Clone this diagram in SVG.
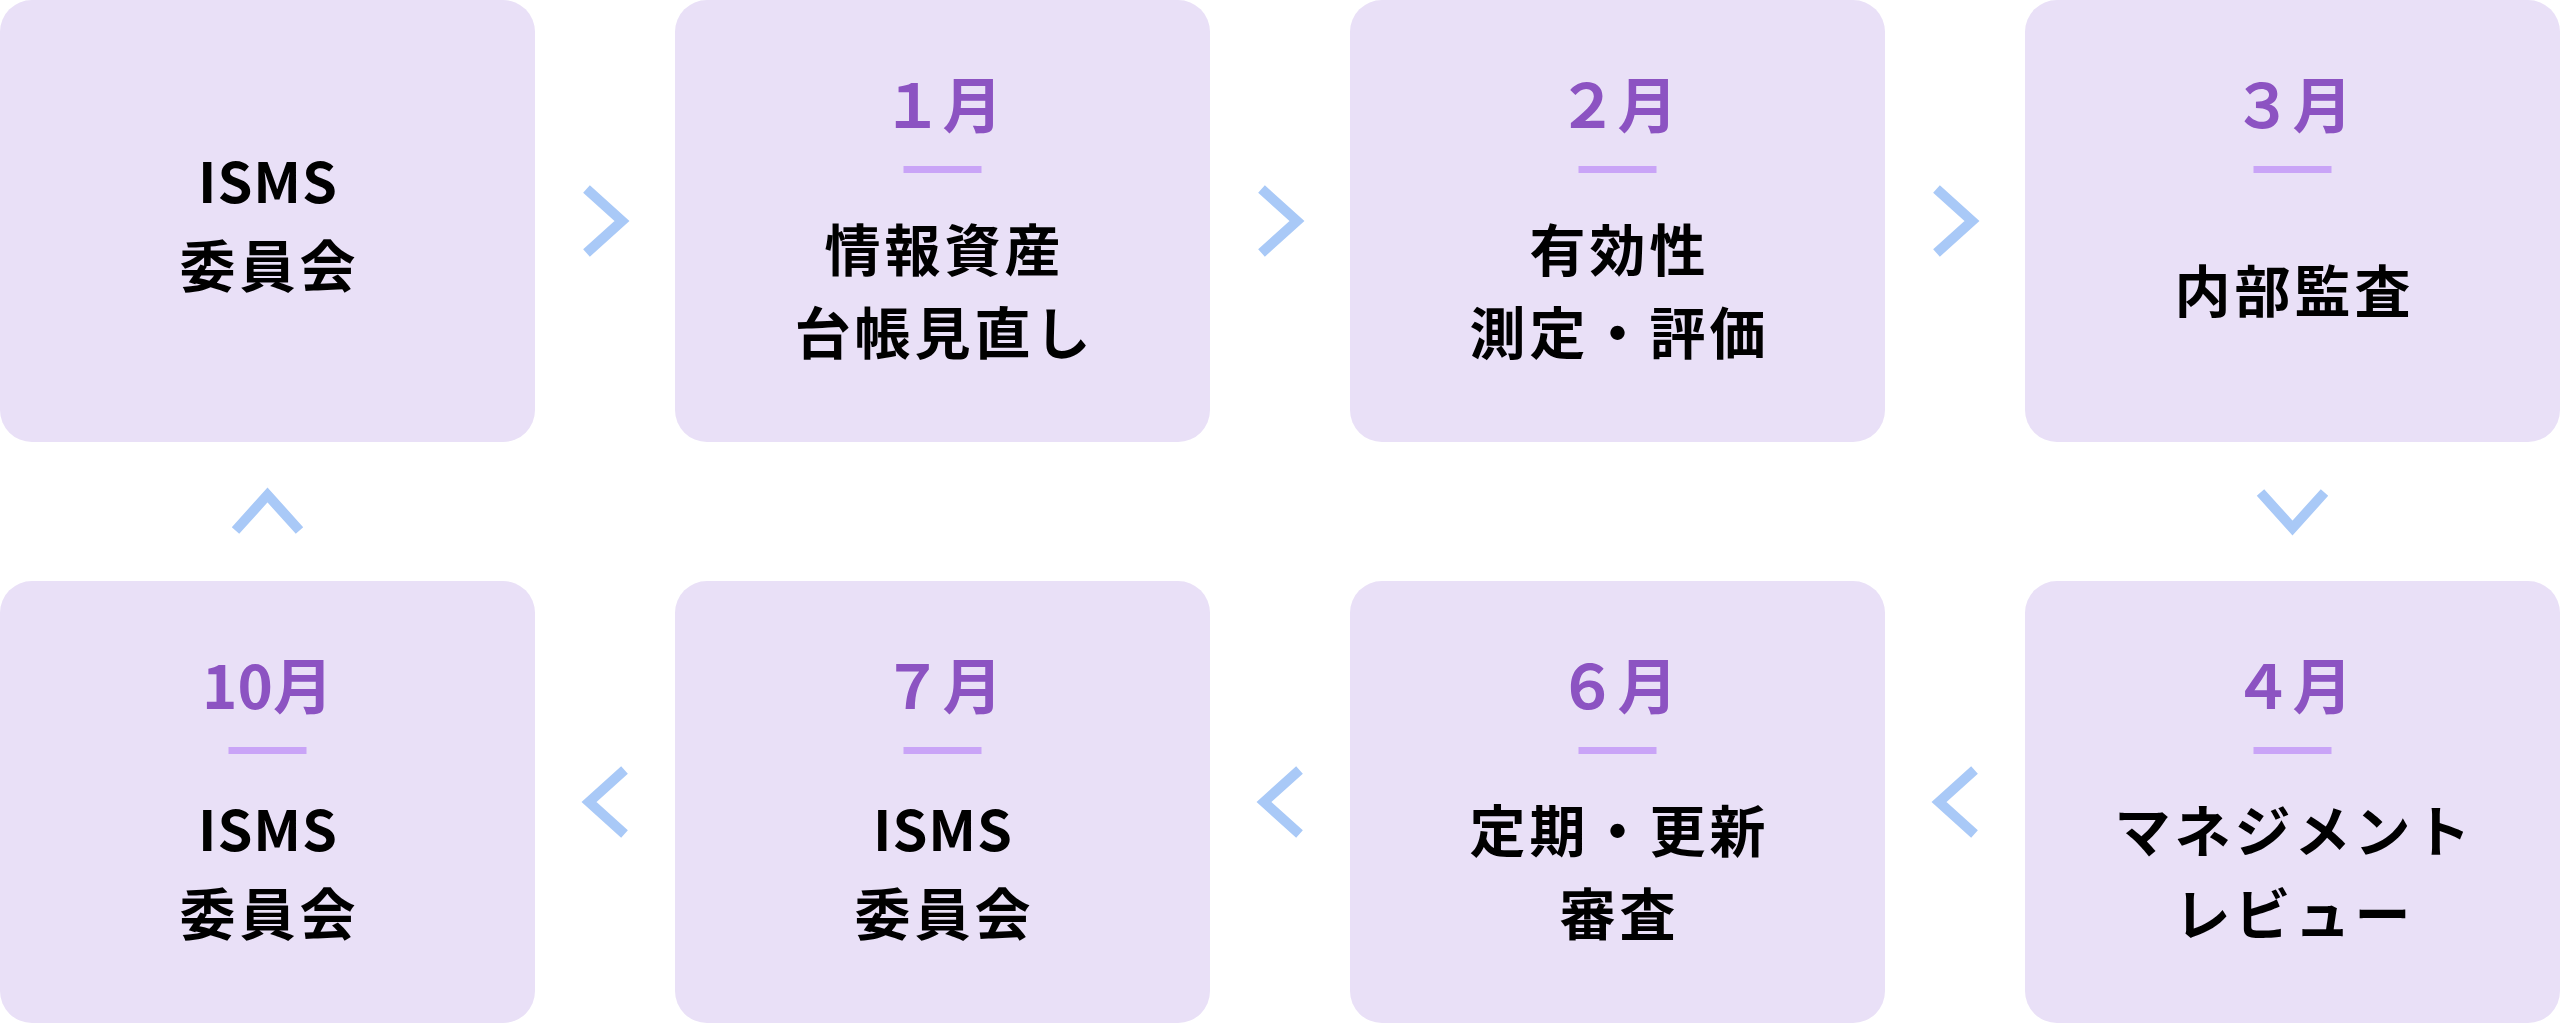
<svg xmlns="http://www.w3.org/2000/svg" width="2560" height="1023" viewBox="0 0 2560 1023">
  <style>
    .box { fill: #e9e0f7; }
    .month { font-family: "Noto Sans CJK JP", "Noto Sans", sans-serif; font-size: 60px; font-weight: 700; fill: #8c53c2; text-anchor: middle; }
    .bar { fill: #c9a4f7; }
    .label { font-family: "Noto Sans CJK JP", "Noto Sans", sans-serif; font-size: 56px; font-weight: 700; fill: #000000; text-anchor: middle; letter-spacing: 4px; }
    .latin { letter-spacing: 1px; }
    .chev { fill: none; stroke: #a9c9f7; stroke-width: 10; stroke-linejoin: miter; stroke-linecap: butt; }
  </style>
  <rect width="2560" height="1023" fill="#ffffff"/>

  <g id="connectors">
    <polyline class="chev" points="586.5,189 622,221 586.5,253"/>
    <polyline class="chev" points="1261.5,189 1297,221 1261.5,253"/>
    <polyline class="chev" points="1936.5,189 1972,221 1936.5,253"/>
    <polyline class="chev" points="2260.5,492.5 2292.5,528 2324.5,492.5"/>
    <polyline class="chev" points="1974.5,770 1939,802 1974.5,834"/>
    <polyline class="chev" points="1299.5,770 1264,802 1299.5,834"/>
    <polyline class="chev" points="624.5,770 589,802 624.5,834"/>
    <polyline class="chev" points="235.5,530.5 267.5,495 299.5,530.5"/>
  </g>

  <g id="node-isms-top">
    <rect class="box" x="0" y="0" width="535" height="442" rx="32"/>
    <text class="label latin" x="268" y="203">ISMS</text>
    <text class="label" x="269.5" y="287">委員会</text>
  </g>

  <g id="node-jan">
    <rect class="box" x="675" y="0" width="535" height="442" rx="32"/>
    <text class="month" x="942.5" y="128">１月</text>
    <rect class="bar" x="903.5" y="166" width="78" height="7"/>
    <text class="label" x="944.5" y="271">情報資産</text>
    <text class="label" x="944.5" y="354">台帳見直し</text>
  </g>

  <g id="node-feb">
    <rect class="box" x="1350" y="0" width="535" height="442" rx="32"/>
    <text class="month" x="1617.5" y="128">２月</text>
    <rect class="bar" x="1578.5" y="166" width="78" height="7"/>
    <text class="label" x="1619.5" y="271">有効性</text>
    <text class="label" x="1619.5" y="354">測定・評価</text>
  </g>

  <g id="node-mar">
    <rect class="box" x="2025" y="0" width="535" height="442" rx="32"/>
    <text class="month" x="2292.5" y="128">３月</text>
    <rect class="bar" x="2253.5" y="166" width="78" height="7"/>
    <text class="label" x="2294.5" y="312">内部監査</text>
  </g>

  <g id="node-apr">
    <rect class="box" x="2025" y="581" width="535" height="442" rx="32"/>
    <text class="month" x="2292.5" y="709">４月</text>
    <rect class="bar" x="2253.5" y="747" width="78" height="7"/>
    <text class="label" x="2294.5" y="852">マネジメント</text>
    <text class="label" x="2294.5" y="935">レビュー</text>
  </g>

  <g id="node-jun">
    <rect class="box" x="1350" y="581" width="535" height="442" rx="32"/>
    <text class="month" x="1617.5" y="709">６月</text>
    <rect class="bar" x="1578.5" y="747" width="78" height="7"/>
    <text class="label" x="1619.5" y="852">定期・更新</text>
    <text class="label" x="1619.5" y="935">審査</text>
  </g>

  <g id="node-jul">
    <rect class="box" x="675" y="581" width="535" height="442" rx="32"/>
    <text class="month" x="942.5" y="709">７月</text>
    <rect class="bar" x="903.5" y="747" width="78" height="7"/>
    <text class="label latin" x="943" y="851">ISMS</text>
    <text class="label" x="944.5" y="935">委員会</text>
  </g>

  <g id="node-oct">
    <rect class="box" x="0" y="581" width="535" height="442" rx="32"/>
    <text class="month" x="267.5" y="709">10月</text>
    <rect class="bar" x="228.5" y="747" width="78" height="7"/>
    <text class="label latin" x="268" y="851">ISMS</text>
    <text class="label" x="269.5" y="935">委員会</text>
  </g>
</svg>
